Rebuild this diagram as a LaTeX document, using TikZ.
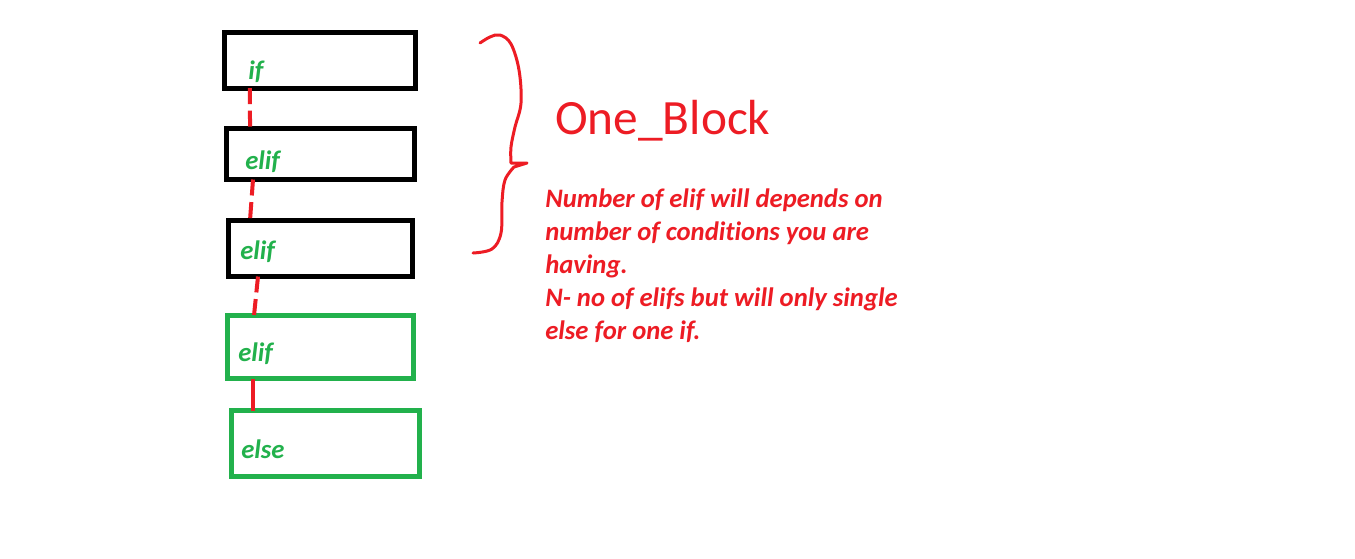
\documentclass[tikz,border=0pt]{standalone}
\usepackage{fontspec}
\setmainfont[Ligatures=NoCommon]{Carlito}
\usetikzlibrary{calc}
\definecolor{paintred}{RGB}{237,28,36}
\definecolor{paintgreen}{RGB}{34,177,76}
\begin{document}
\begin{tikzpicture}[x=0.75pt,y=-0.75pt,
	blk/.style={draw, line width=3.75pt, inner sep=0pt, outer sep=0pt},
	lbl/.style={text=paintgreen, font=\fontsize{20}{24}\selectfont\bfseries\itshape, inner sep=0pt, anchor=base west},
	dlink/.style={draw=paintred, line width=3pt, dash pattern=on 12pt off 5pt},
	slink/.style={draw=paintred, line width=3pt}]
	\fill[white] (0,0) rectangle (1355,558);
	\useasboundingbox (0,0) rectangle (1355,558);
	\node[blk, minimum width=142.9pt, minimum height=42pt] (if) at (319.75,60) {};
	\node[blk, minimum width=141pt, minimum height=38.25pt] (elifa) at (320.5,154) {};
	\node[blk, minimum width=138pt, minimum height=42pt] (elifb) at (320.5,248.5) {};
	\node[blk, draw=paintgreen, minimum width=139.5pt, minimum height=47.25pt] (elifc) at (320.5,347) {};
	\node[blk, draw=paintgreen, minimum width=141pt, minimum height=49.5pt] (else) at (325.5,443.5) {};
	\node[lbl] (iftext) at (248,79) {if};
	\node[lbl] (elifatext) at (245,169) {elif};
	\node[lbl] (elifbtext) at (240,259) {elif};
	\node[lbl] (elifctext) at (238,361) {elif};
	\node[lbl] (elsetext) at (241,458) {else};
	\draw[dlink] ($(if.south west)+(25.5,0)$) -- ($(elifa.north west)+(23.5,0)$);
	\draw[dlink] ($(elifa.south west)+(26.5,0)$) -- ($(elifb.north west)+(21.5,0)$);
	\draw[dlink] ($(elifb.south west)+(29.5,0)$) -- ($(elifc.north west)+(26.5,0)$);
	\draw[slink] ($(elifc.south west)+(25.5,0)$) -- ($(else.north west)+(21.5,0)$);
	% hand drawn brace
	\draw[paintred, line width=2.25pt, line cap=round, line join=round]
		plot[smooth, tension=0.6] coordinates {(480,43) (490,37) (500,35) (511,44) (519,70) (521,103) (515,127) (511,147) (511,163)}
		-- (527,163) -- (514,167)
		plot[smooth, tension=0.6] coordinates {(514,167) (505,180) (502,202) (501,233) (492,249) (473,253)};
	\node[text=paintred, font=\fontsize{37}{40}\selectfont, inner sep=0pt, anchor=base west] (blocktext) at (555,134) {One\_Block};
	\node[text=paintred, font=\fontsize{20}{24.75}\selectfont\bfseries\itshape, inner sep=0pt, anchor=north west, align=left] (note) at (545,189)
		{Number of elif will depends on\\number of conditions you are\\having.\\N- no of elifs but will only single\\else for one if.};
\end{tikzpicture}
\end{document}
